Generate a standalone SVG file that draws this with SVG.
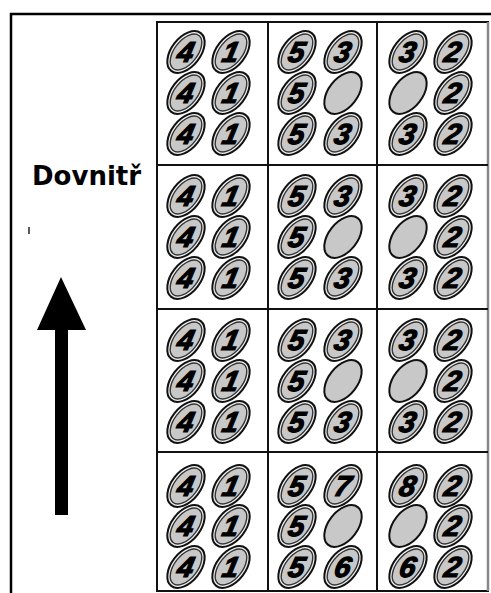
<svg xmlns="http://www.w3.org/2000/svg" xmlns:xlink="http://www.w3.org/1999/xlink" width="491" height="593" viewBox="0 0 491 593">
<style>
.frame{fill:none;stroke:#000;stroke-width:2.5}
.grid{fill:none;stroke:#111;stroke-width:2}
.dg{font-family:"Liberation Sans",Arial,sans-serif;font-weight:bold;font-style:italic;font-size:29px;fill:#000;stroke:#000;stroke-width:1.2;text-anchor:middle;transform-box:fill-box;transform-origin:center;transform:skewX(-12deg)}
.lbl{font-family:"DejaVu Sans",Verdana,sans-serif;font-weight:bold;font-size:26px;fill:#000}
</style>
<defs>
<g id="d">
<ellipse cx="0" cy="0" rx="14.5" ry="24" transform="rotate(38)" fill="#f0f0f0" stroke="#111" stroke-width="2"/>
<ellipse cx="0" cy="0" rx="11.5" ry="21" transform="rotate(38)" fill="#c8c8c8" stroke="#333" stroke-width="1.4"/>
</g>
<g id="o">
<ellipse cx="0" cy="0" rx="14.5" ry="24" transform="rotate(38)" fill="#c8c8c8" stroke="#111" stroke-width="2"/>
</g>
</defs>
<rect width="491" height="593" fill="#fff"/>
<g id="frame">
<path class="frame" d="M11,593 V14 H491"/>
</g>
<g id="label">
<text class="lbl" x="32" y="185">Dovnitř</text>
<line x1="29" y1="227" x2="29" y2="234" stroke="#000" stroke-width="1.3"/>
</g>
<g id="connectors">
<path d="M55,515 H68 V330 H86 L61,277 L37,330 H55 Z" fill="#000"/>
</g>
<g id="grid">
<rect class="grid" x="157" y="22" width="331" height="569"/>
<line x1="488" y1="22" x2="488" y2="591" stroke="#888" stroke-width="2.5"/>
<line class="grid" x1="268" y1="22" x2="268" y2="591"/>
<line class="grid" x1="377" y1="22" x2="377" y2="591"/>
<line class="grid" x1="157" y1="165" x2="488" y2="165"/>
<line class="grid" x1="157" y1="309" x2="488" y2="309"/>
<line class="grid" x1="157" y1="452" x2="488" y2="452"/>
</g>
<!-- Column A cells -->
<g id="cellA1">
<use xlink:href="#d" x="186" y="52"/><use xlink:href="#d" x="231" y="52"/>
<use xlink:href="#d" x="186" y="93"/><use xlink:href="#d" x="231" y="93"/>
<use xlink:href="#d" x="186" y="134"/><use xlink:href="#d" x="231" y="134"/>
<text class="dg" x="186" y="62">4</text><text class="dg" x="231" y="62">1</text>
<text class="dg" x="186" y="103">4</text><text class="dg" x="231" y="103">1</text>
<text class="dg" x="186" y="144">4</text><text class="dg" x="231" y="144">1</text>
</g>
<g id="cellA2">
<use xlink:href="#d" x="186" y="196"/><use xlink:href="#d" x="231" y="196"/>
<use xlink:href="#d" x="186" y="237"/><use xlink:href="#d" x="231" y="237"/>
<use xlink:href="#d" x="186" y="278"/><use xlink:href="#d" x="231" y="278"/>
<text class="dg" x="186" y="206">4</text><text class="dg" x="231" y="206">1</text>
<text class="dg" x="186" y="247">4</text><text class="dg" x="231" y="247">1</text>
<text class="dg" x="186" y="288">4</text><text class="dg" x="231" y="288">1</text>
</g>
<g id="cellA3">
<use xlink:href="#d" x="186" y="340"/><use xlink:href="#d" x="231" y="340"/>
<use xlink:href="#d" x="186" y="381"/><use xlink:href="#d" x="231" y="381"/>
<use xlink:href="#d" x="186" y="422"/><use xlink:href="#d" x="231" y="422"/>
<text class="dg" x="186" y="350">4</text><text class="dg" x="231" y="350">1</text>
<text class="dg" x="186" y="391">4</text><text class="dg" x="231" y="391">1</text>
<text class="dg" x="186" y="432">4</text><text class="dg" x="231" y="432">1</text>
</g>
<g id="cellA4">
<use xlink:href="#d" x="186" y="486"/><use xlink:href="#d" x="231" y="486"/>
<use xlink:href="#d" x="186" y="526"/><use xlink:href="#d" x="231" y="526"/>
<use xlink:href="#d" x="186" y="567"/><use xlink:href="#d" x="231" y="567"/>
<text class="dg" x="186" y="496">4</text><text class="dg" x="231" y="496">1</text>
<text class="dg" x="186" y="536">4</text><text class="dg" x="231" y="536">1</text>
<text class="dg" x="186" y="577">4</text><text class="dg" x="231" y="577">1</text>
</g>
<!-- Column B cells -->
<g id="cellB1">
<use xlink:href="#d" x="297" y="52"/><use xlink:href="#d" x="343" y="52"/>
<use xlink:href="#d" x="297" y="93"/><use xlink:href="#o" x="343" y="93"/>
<use xlink:href="#d" x="297" y="134"/><use xlink:href="#d" x="343" y="134"/>
<text class="dg" x="297" y="62">5</text><text class="dg" x="343" y="62">3</text>
<text class="dg" x="297" y="103">5</text>
<text class="dg" x="297" y="144">5</text><text class="dg" x="343" y="144">3</text>
</g>
<g id="cellB2">
<use xlink:href="#d" x="297" y="196"/><use xlink:href="#d" x="343" y="196"/>
<use xlink:href="#d" x="297" y="237"/><use xlink:href="#o" x="343" y="237"/>
<use xlink:href="#d" x="297" y="278"/><use xlink:href="#d" x="343" y="278"/>
<text class="dg" x="297" y="206">5</text><text class="dg" x="343" y="206">3</text>
<text class="dg" x="297" y="247">5</text>
<text class="dg" x="297" y="288">5</text><text class="dg" x="343" y="288">3</text>
</g>
<g id="cellB3">
<use xlink:href="#d" x="297" y="340"/><use xlink:href="#d" x="343" y="340"/>
<use xlink:href="#d" x="297" y="381"/><use xlink:href="#o" x="343" y="381"/>
<use xlink:href="#d" x="297" y="422"/><use xlink:href="#d" x="343" y="422"/>
<text class="dg" x="297" y="350">5</text><text class="dg" x="343" y="350">3</text>
<text class="dg" x="297" y="391">5</text>
<text class="dg" x="297" y="432">5</text><text class="dg" x="343" y="432">3</text>
</g>
<g id="cellB4">
<use xlink:href="#d" x="297" y="486"/><use xlink:href="#d" x="343" y="486"/>
<use xlink:href="#d" x="297" y="526"/><use xlink:href="#o" x="343" y="526"/>
<use xlink:href="#d" x="297" y="567"/><use xlink:href="#d" x="343" y="567"/>
<text class="dg" x="297" y="496">5</text><text class="dg" x="343" y="496">7</text>
<text class="dg" x="297" y="536">5</text>
<text class="dg" x="297" y="577">5</text><text class="dg" x="343" y="577">6</text>
</g>
<!-- Column C cells -->
<g id="cellC1">
<use xlink:href="#d" x="408" y="52"/><use xlink:href="#d" x="453" y="52"/>
<use xlink:href="#o" x="408" y="93"/><use xlink:href="#d" x="453" y="93"/>
<use xlink:href="#d" x="408" y="134"/><use xlink:href="#d" x="453" y="134"/>
<text class="dg" x="408" y="62">3</text><text class="dg" x="453" y="62">2</text>
<text class="dg" x="453" y="103">2</text>
<text class="dg" x="408" y="144">3</text><text class="dg" x="453" y="144">2</text>
</g>
<g id="cellC2">
<use xlink:href="#d" x="408" y="196"/><use xlink:href="#d" x="453" y="196"/>
<use xlink:href="#o" x="408" y="237"/><use xlink:href="#d" x="453" y="237"/>
<use xlink:href="#d" x="408" y="278"/><use xlink:href="#d" x="453" y="278"/>
<text class="dg" x="408" y="206">3</text><text class="dg" x="453" y="206">2</text>
<text class="dg" x="453" y="247">2</text>
<text class="dg" x="408" y="288">3</text><text class="dg" x="453" y="288">2</text>
</g>
<g id="cellC3">
<use xlink:href="#d" x="408" y="340"/><use xlink:href="#d" x="453" y="340"/>
<use xlink:href="#o" x="408" y="381"/><use xlink:href="#d" x="453" y="381"/>
<use xlink:href="#d" x="408" y="422"/><use xlink:href="#d" x="453" y="422"/>
<text class="dg" x="408" y="350">3</text><text class="dg" x="453" y="350">2</text>
<text class="dg" x="453" y="391">2</text>
<text class="dg" x="408" y="432">3</text><text class="dg" x="453" y="432">2</text>
</g>
<g id="cellC4">
<use xlink:href="#d" x="408" y="486"/><use xlink:href="#d" x="453" y="486"/>
<use xlink:href="#o" x="408" y="526"/><use xlink:href="#d" x="453" y="526"/>
<use xlink:href="#d" x="408" y="567"/><use xlink:href="#d" x="453" y="567"/>
<text class="dg" x="408" y="496">8</text><text class="dg" x="453" y="496">2</text>
<text class="dg" x="453" y="536">2</text>
<text class="dg" x="408" y="577">6</text><text class="dg" x="453" y="577">2</text>
</g>
</svg>
